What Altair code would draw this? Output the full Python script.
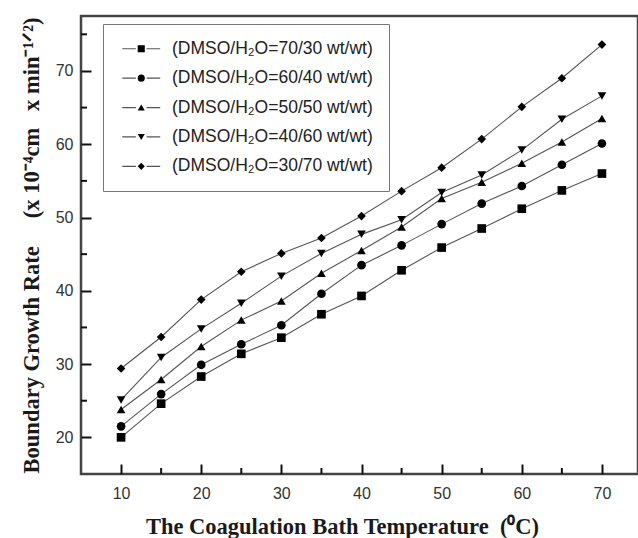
import altair as alt
import pandas as pd

# ---- data ----
temps = [10, 15, 20, 25, 30, 35, 40, 45, 50, 55, 60, 65, 70]
series_names = [
    "(DMSO/H₂O=70/30 wt/wt)",
    "(DMSO/H₂O=60/40 wt/wt)",
    "(DMSO/H₂O=50/50 wt/wt)",
    "(DMSO/H₂O=40/60 wt/wt)",
    "(DMSO/H₂O=30/70 wt/wt)",
]
r_70_30 = [20.0, 24.6, 28.3, 31.4, 33.6, 36.8, 39.3, 42.8, 45.9, 48.5, 51.2, 53.7, 56.0]
r_60_40 = [21.5, 25.9, 29.9, 32.7, 35.3, 39.6, 43.5, 46.2, 49.1, 51.9, 54.3, 57.2, 60.1]
r_50_50 = [23.8, 27.9, 32.4, 36.0, 38.6, 42.4, 45.5, 48.7, 52.6, 54.8, 57.4, 60.3, 63.5]
r_40_60 = [25.1, 30.9, 34.8, 38.3, 42.0, 45.1, 47.7, 49.7, 53.4, 55.8, 59.2, 63.4, 66.6]
r_30_70 = [29.4, 33.7, 38.8, 42.6, 45.1, 47.2, 50.2, 53.6, 56.8, 60.7, 65.1, 69.0, 73.6]
shapes = ["square", "circle", "triangle-up", "triangle-down", "diamond"]

x_major = [10, 20, 30, 40, 50, 60, 70]
x_minor = [15, 25, 35, 45, 55, 65]
y_major = [20, 30, 40, 50, 60, 70]
y_minor = [25, 35, 45, 55, 65, 75]

all_series = [r_70_30, r_60_40, r_50_50, r_40_60, r_30_70]
rows = []
for name, vals in zip(series_names, all_series):
    for t, v in zip(temps, vals):
        rows.append({"T": t, "rate": v, "series": name, "series_l": name})
df = pd.DataFrame(rows)

NB = "\u00a0"
W, H = 557, 458
xscale = alt.Scale(domain=[5, 74.5], nice=False, zero=False)
yscale = alt.Scale(domain=[15, 77.5], nice=False, zero=False)

tick_style = dict(ticks=True, tickSize={"expr": "-10"}, tickColor="#111", tickWidth=2)

x_enc = alt.X(
    "T:Q", scale=xscale,
    axis=alt.Axis(
        values=x_major, domain=False, grid=False, **tick_style,
        labelFont="Liberation Sans", labelFontSize=16, labelColor="#333",
        labelPadding=21,
        title=f"The Coagulation Bath Temperature{NB}{NB}(⁰C)",
        titleFont="Liberation Serif", titleFontSize=22.5, titleFontWeight="bold",
        titleColor="#1a1a1a", titlePadding=14, titleX=261, titleAlign="center",
        zindex=5,
    ),
)
y_enc = alt.Y(
    "rate:Q", scale=yscale,
    axis=alt.Axis(
        values=y_major, domain=False, grid=False, **tick_style,
        labelFont="Liberation Sans", labelFontSize=16, labelColor="#333",
        labelPadding=18,
        title=f"Boundary Growth Rate{NB*5}(x{NB}10⁻⁴cm{NB*3}x{NB}min⁻¹ᐟ²)",
        titleFont="Liberation Serif", titleFontSize=22.5, titleFontWeight="bold",
        titleColor="#1a1a1a", titlePadding=12,
        zindex=5,
    ),
)

leg_common = dict(
    orient="none", legendX=22, legendY=8, title=None, padding=16,
    labelFont="Liberation Sans", labelFontSize=17.5, rowPadding=10.4,
    symbolOffset=13.5, labelOffset=22, labelLimit=400,
)

lines = alt.Chart(df).mark_line(strokeWidth=1.1).encode(
    x=x_enc, y=y_enc,
    stroke=alt.Stroke(
        "series_l:N", sort=series_names,
        scale=alt.Scale(range=["#555"] * 5),
        legend=alt.Legend(
            symbolType="M-6,0H-1.7M1.7,0H6", symbolSize=40,
            symbolStrokeWidth=1.2, labelOpacity=0, **leg_common,
        ),
    ),
    detail="series:N",
)

points = alt.Chart(df).mark_point(filled=True, color="black", size=75, opacity=1).encode(
    x=alt.X("T:Q", scale=xscale),
    y=alt.Y("rate:Q", scale=yscale),
    shape=alt.Shape(
        "series:N", sort=series_names,
        scale=alt.Scale(range=shapes),
        legend=alt.Legend(
            symbolSize=50, symbolFillColor="black", symbolStrokeWidth=0,
            labelColor="#222", strokeColor="#777", **leg_common,
        ),
    ),
)

minor_x = alt.Chart(pd.DataFrame({"xn": x_minor})).mark_rule(
    color="#111", strokeWidth=2
).encode(x=alt.X("xn:Q", scale=xscale), y=alt.value(H - 6), y2=alt.value(H))

minor_y = alt.Chart(pd.DataFrame({"yn": y_minor})).mark_rule(
    color="#111", strokeWidth=2
).encode(y=alt.Y("yn:Q", scale=yscale), x=alt.value(0), x2=alt.value(6))

chart = alt.layer(lines, points, minor_x, minor_y).properties(
    width=W, height=H,
    autosize=alt.AutoSizeParams(type="none"),
    padding={"left": 81, "top": 16, "right": 0, "bottom": 64},
    background="white",
).configure_view(stroke="#444", strokeWidth=2.5)

chart.save("out.html", embed_options={"renderer": "svg", "actions": False})
